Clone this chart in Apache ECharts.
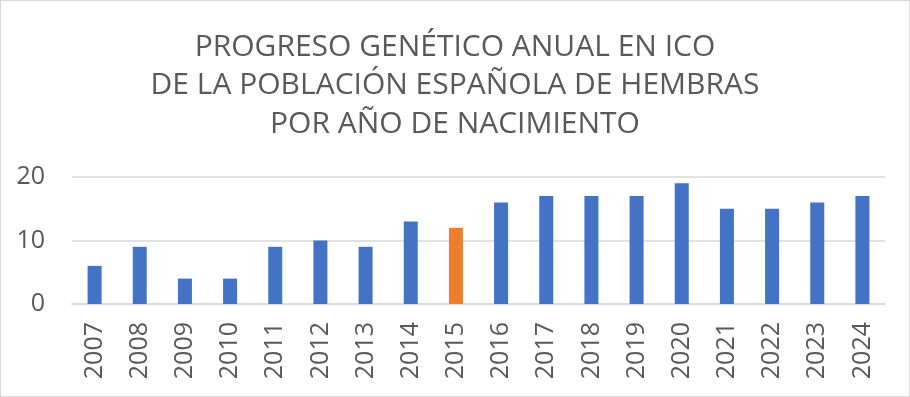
<!DOCTYPE html>
<html><head><meta charset="utf-8">
<script src="https://cdn.jsdelivr.net/npm/echarts@6/dist/echarts.min.js"></script>
<style>html,body{margin:0;padding:0;background:#fff;}#c{width:908px;height:395px;border:1px solid #d9d9d9;}</style>
</head><body><div id="c"></div>
<script>
const categories = ['2007','2008','2009','2010','2011','2012','2013','2014','2015','2016','2017','2018','2019','2020','2021','2022','2023','2024'];
const values = [6,9,4,4,9,10,9,13,12,16,17,17,17,19,15,15,16,17];
const highlightYear = '2015';
const yTicks = [0,10,20];
const titleLines = ['PROGRESO GENÉTICO ANUAL EN ICO','DE LA POBLACIÓN ESPAÑOLA DE HEMBRAS','POR AÑO DE NACIMIENTO'];

const chart = echarts.init(document.getElementById('c'));
const font = "'Open Sans', 'Liberation Sans', sans-serif";
chart.setOption({
  animation: false,
  title: {
    text: titleLines.join('\n'),
    left: 'center', top: 22,
    textStyle: {fontFamily: font, fontSize: 30, fontWeight: 'normal', color: '#595959', lineHeight: 38.5}
  },
  grid: {left: 71, right: 24, top: 176, bottom: 92, containLabel: false},
  xAxis: {
    type: 'category', data: categories,
    axisLine: {lineStyle: {color: '#d9d9d9', width: 1.5}},
    axisTick: {show: false},
    axisLabel: {rotate: 90, interval: 0, margin: 18, color: '#595959', fontSize: 25, fontFamily: font}
  },
  yAxis: {
    type: 'value', min: yTicks[0], max: yTicks[yTicks.length-1], interval: 10,
    axisLine: {show: false}, axisTick: {show: false},
    splitLine: {lineStyle: {color: '#d9d9d9', width: 1.5}},
    axisLabel: {margin: 27, color: '#595959', fontSize: 25, fontFamily: font}
  },
  series: [{
    type: 'bar', barWidth: '31%',
    data: values.map((v,i) => ({value: v, itemStyle: {color: categories[i] === highlightYear ? '#ED7D31' : '#4472C4'}}))
  }]
});
</script></body></html>
